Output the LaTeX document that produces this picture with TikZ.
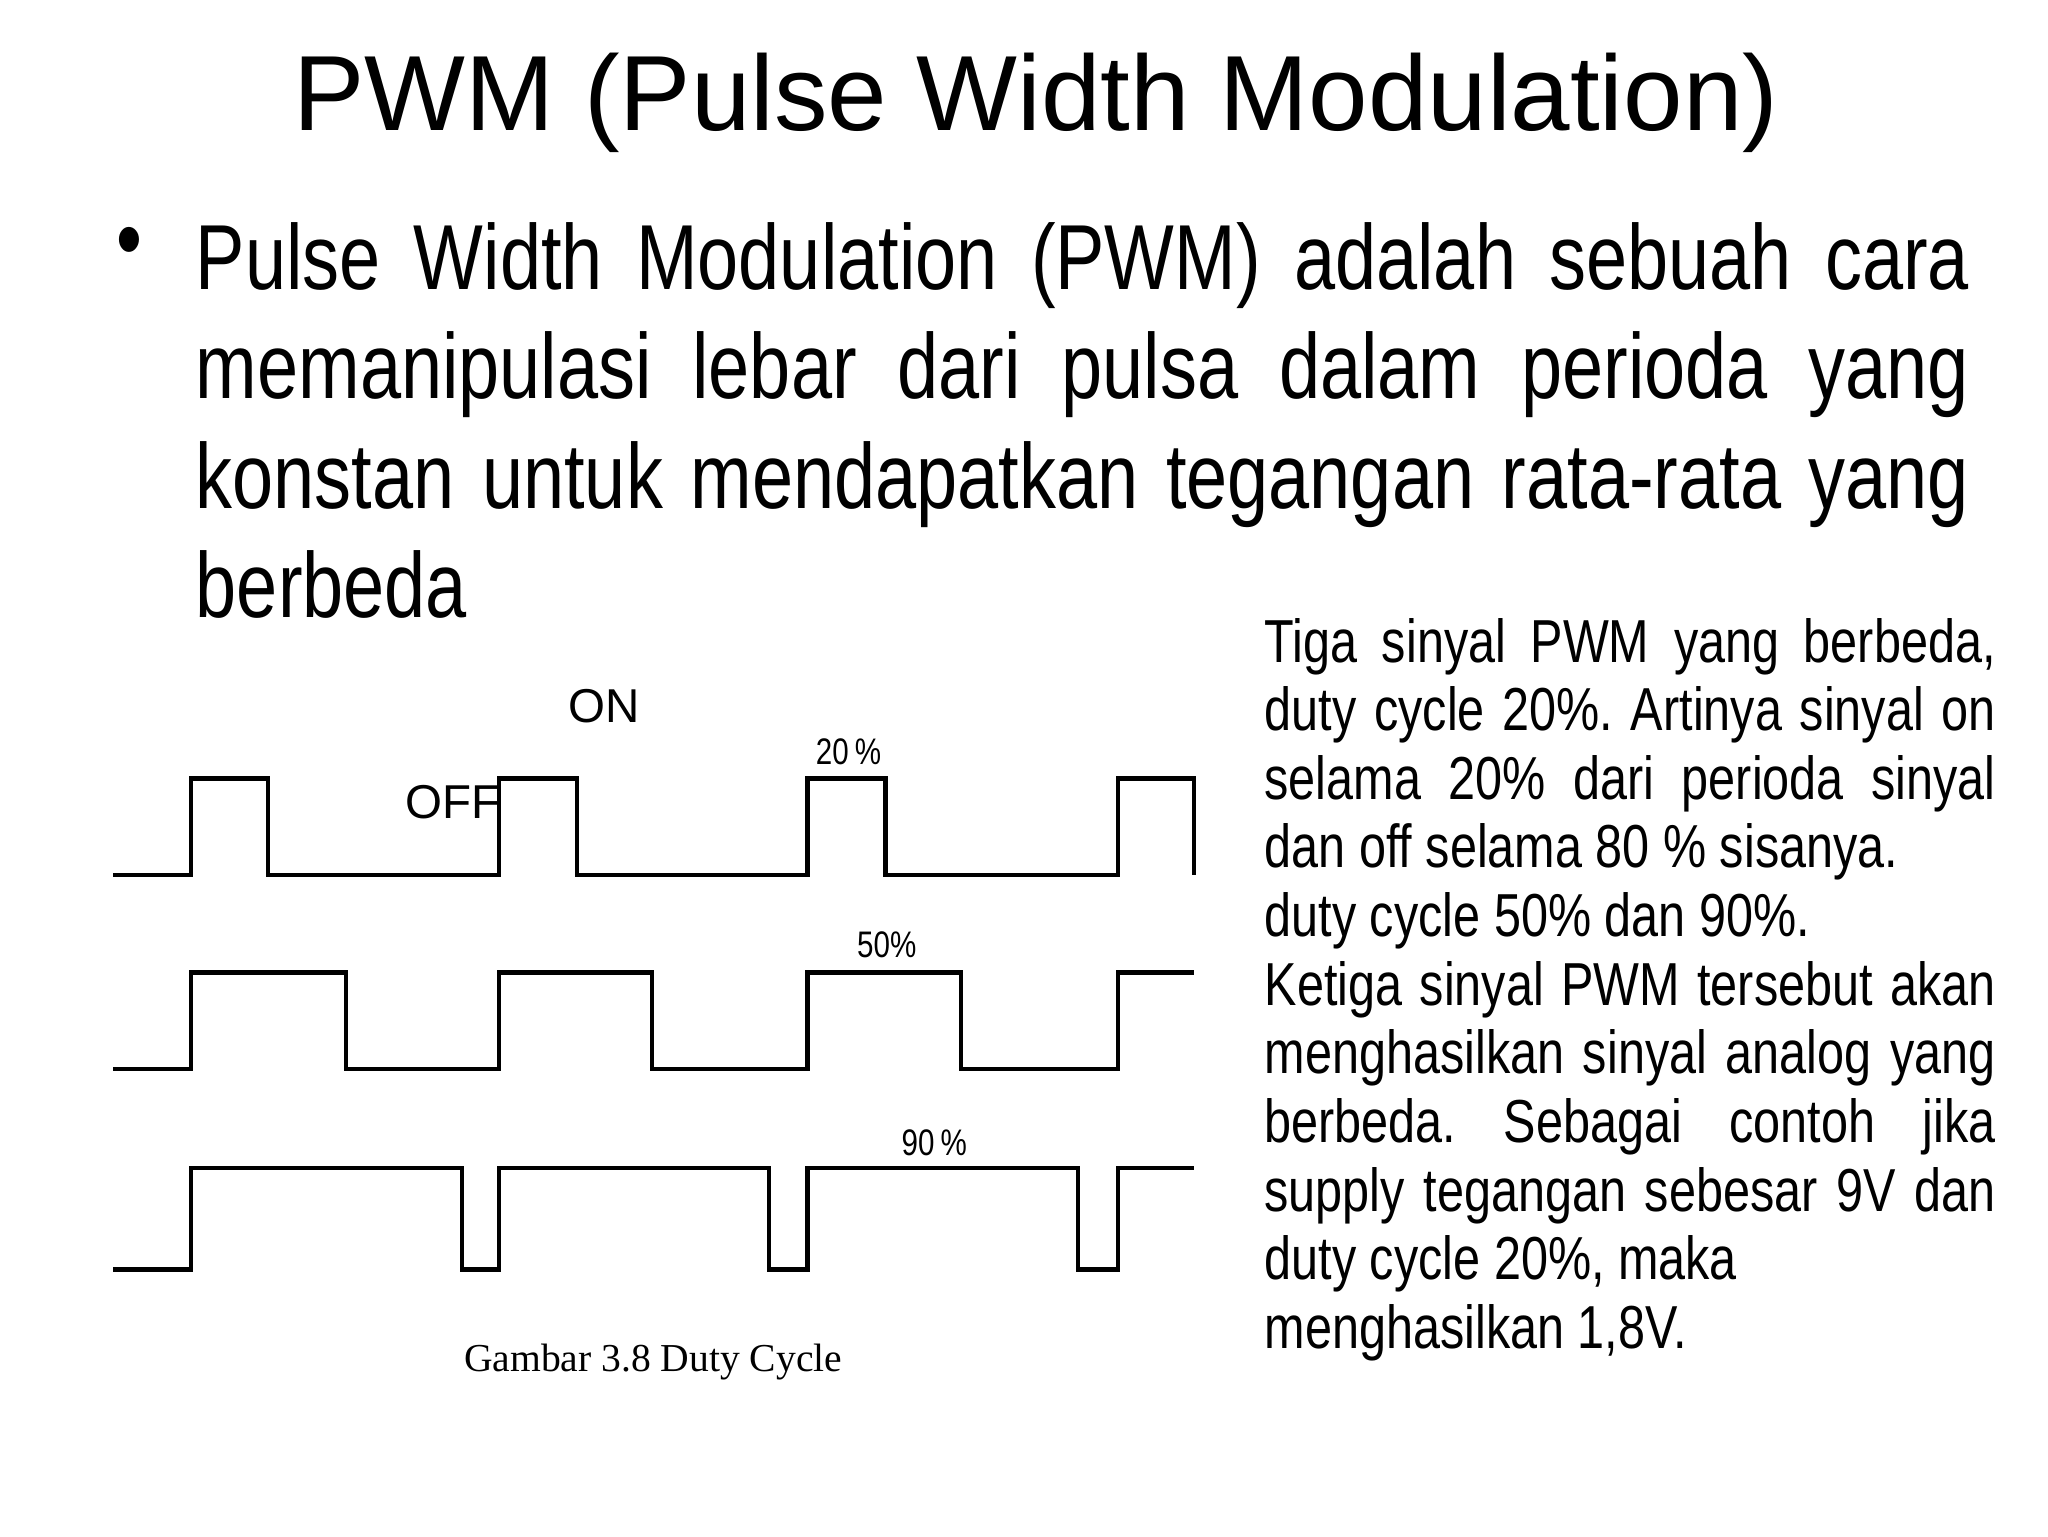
\documentclass[tikz,border=0pt]{standalone}
\usepackage{fontspec}
\setmainfont{Liberation Sans}
\newfontfamily\narrow[FakeStretch=0.8]{Liberation Sans}
\newfontfamily\sidefont[FakeStretch=0.8]{Liberation Sans}
\newfontfamily\serf{Liberation Serif}
\frenchspacing
\begin{document}
\begin{tikzpicture}[x=0.5pt,y=-0.5pt,wave/.style={line width=1.6pt,black}]
\useasboundingbox (0,0) rectangle (1552,1164);
\node (title) at (785,78) {\fontsize{40.5}{46}\selectfont PWM (Pulse Width Modulation)};
\node[anchor=north west,inner sep=0] (bul) at (88,172) {\fontsize{35}{41.5}\selectfont\narrow •};
\node[anchor=north west,inner sep=0,text width=672pt,align=justify] (body) at (148,168)
 {\fontsize{35}{41.5}\selectfont\narrow Pulse Width Modulation (PWM) adalah sebuah cara memanipulasi lebar dari pulsa dalam perioda yang konstan untuk mendapatkan tegangan rata-rata yang berbeda\par};
\node[anchor=north west,inner sep=0,text width=277pt,align=justify] (side) at (958,468)
 {\fontsize{23}{26}\selectfont\sidefont\hyphenpenalty=10000 Tiga sinyal PWM yang berbeda,\linebreak duty cycle 20\%. Artinya sinyal on\linebreak selama 20\% dari perioda sinyal\linebreak dan off selama 80 \% sisanya.\newline duty cycle 50\% dan 90\%.\newline Ketiga sinyal PWM tersebut akan\linebreak menghasilkan sinyal analog yang\linebreak berbeda. Sebagai contoh jika\linebreak supply tegangan sebesar 9V dan\linebreak duty cycle 20\%, maka\newline menghasilkan 1,8V.\par};
\draw[wave] (86,663) -- (145,663) |- (203,590) |- (378,663) |- (437,590) |- (612,663) |- (671,590) |- (847,663) |- (905,590) -- (905,663);
\draw[wave] (86,810) -- (145,810) |- (262,737) |- (378,810) |- (494,737) |- (612,810) |- (728,737) |- (847,810) |- (905,737);
\draw[wave] (86,962) -- (145,962) |- (350,885) |- (378,962) |- (583,885) |- (612,962) |- (817,885) |- (847,962) |- (905,885);
\node (p20) at (643,570) {\fontsize{14}{16}\selectfont\narrow 20\,\%};
\node (p50) at (672,716) {\fontsize{14}{16}\selectfont\narrow 50\%};
\node (p90) at (708,866) {\fontsize{14}{16}\selectfont\narrow 90\,\%};
\node (on) at (458,535) {\fontsize{18}{20}\selectfont ON};
\node (off) at (343,608) {\fontsize{18}{20}\selectfont OFF};
\node (cap) at (495,1032) {\fontsize{15}{17}\selectfont\serf Gambar 3.8 Duty Cycle};
\end{tikzpicture}
\end{document}
